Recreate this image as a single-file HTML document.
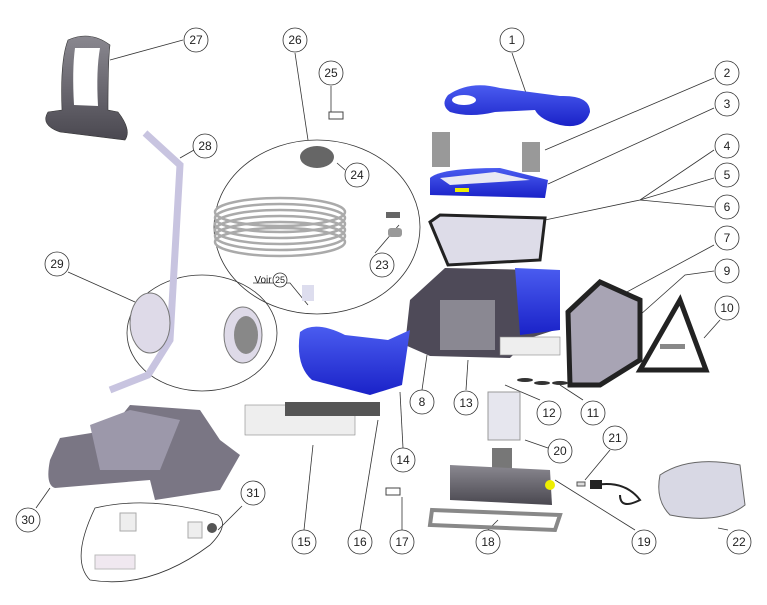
<!DOCTYPE html>
<html><head><meta charset="utf-8"><style>
html,body{margin:0;padding:0;background:#fff}
svg{display:block}
text{font-family:"Liberation Sans",sans-serif;font-size:12px;fill:#222}
</style></head><body>
<svg width="767" height="605" viewBox="0 0 767 605" xmlns="http://www.w3.org/2000/svg">
<defs>
<linearGradient id="bl" x1="0" y1="0" x2="0" y2="1"><stop offset="0" stop-color="#4a5cf0"/><stop offset="1" stop-color="#1a22c8"/></linearGradient>
<linearGradient id="gr" x1="0" y1="0" x2="0" y2="1"><stop offset="0" stop-color="#8a8890"/><stop offset="1" stop-color="#4a4850"/></linearGradient>
<linearGradient id="lv" x1="0" y1="0" x2="1" y2="0"><stop offset="0" stop-color="#dcd8ec"/><stop offset="1" stop-color="#a8a4c0"/></linearGradient>
</defs>
<g stroke="#333" stroke-width="0.8" fill="none">
<!-- leader lines -->
<line x1="512" y1="53" x2="526" y2="93"/>
<line x1="714" y1="78" x2="545" y2="150"/>
<line x1="714" y1="108" x2="548" y2="184"/>
<polyline points="714,150 640,200 545,220"/>
<polyline points="714,178 640,200"/>
<polyline points="714,207 640,200"/>
<line x1="714" y1="245" x2="612" y2="300"/>
<polyline points="714,271 685,275 640,315"/>
<line x1="720" y1="320" x2="704" y2="338"/>
<line x1="422" y1="390" x2="427" y2="355"/>
<line x1="466" y1="390" x2="468" y2="360"/>
<line x1="540" y1="400" x2="505" y2="385"/>
<line x1="583" y1="400" x2="560" y2="385"/>
<line x1="403" y1="448" x2="400" y2="392"/>
<line x1="304" y1="530" x2="313" y2="445"/>
<line x1="360" y1="530" x2="378" y2="420"/>
<line x1="402" y1="530" x2="402" y2="497"/>
<line x1="488" y1="530" x2="498" y2="520"/>
<line x1="635" y1="530" x2="555" y2="480"/>
<line x1="548" y1="448" x2="525" y2="440"/>
<line x1="610" y1="450" x2="585" y2="480"/>
<line x1="728" y1="530" x2="718" y2="528"/>
<line x1="36" y1="508" x2="50" y2="488"/>
<line x1="242" y1="506" x2="218" y2="530"/>
<line x1="183" y1="40" x2="110" y2="60"/>
<line x1="295" y1="53" x2="308" y2="140"/>
<line x1="331" y1="86" x2="331" y2="112"/>
<line x1="194" y1="150" x2="180" y2="158"/>
<line x1="345" y1="170" x2="337" y2="163"/>
<line x1="375" y1="253" x2="399" y2="225"/>
<line x1="68" y1="272" x2="135" y2="302"/>
<polyline points="253,283 290,283 308,305"/>
<!-- circles -->
<ellipse cx="317" cy="227" rx="103" ry="87"/>
<ellipse cx="202" cy="333" rx="75" ry="58"/>
<path d="M95 508 Q70 560 90 580 Q150 590 210 545 Q230 525 218 515 Q150 495 95 508Z"/>
</g>
<!-- parts -->
<g>
<!-- 27 handle -->
<path d="M68 40 Q60 60 62 110 L48 112 Q40 125 60 132 L125 140 Q132 130 118 112 L108 110 Q108 60 110 45 Q90 30 68 40Z" fill="url(#gr)" stroke="#333" stroke-width="0.6"/>
<path d="M75 48 Q72 70 74 105 L98 106 Q96 70 100 48Z" fill="#fff"/>
<!-- 28 tube -->
<path d="M145 133 L180 165 L170 340 L148 375 L110 390" stroke="#c8c4e0" stroke-width="7" fill="none"/>
<!-- 29 wheels -->
<ellipse cx="150" cy="323" rx="20" ry="30" fill="#dedae8" stroke="#777"/>
<ellipse cx="243" cy="335" rx="19" ry="28" fill="#dedae8" stroke="#777"/>
<ellipse cx="246" cy="335" rx="12" ry="19" fill="#888"/>
<!-- 24 -->
<ellipse cx="317" cy="157" rx="17" ry="11" fill="#666"/>
<!-- cable coil -->
<g fill="none" stroke="#aaa" stroke-width="2.5">
<ellipse cx="280" cy="212" rx="65" ry="14"/><ellipse cx="280" cy="218" rx="65" ry="14"/><ellipse cx="280" cy="224" rx="65" ry="14"/><ellipse cx="280" cy="230" rx="65" ry="14"/><ellipse cx="280" cy="236" rx="65" ry="14"/><ellipse cx="280" cy="242" rx="65" ry="14"/>
</g>
<rect x="386" y="212" width="14" height="6" fill="#666"/>
<rect x="388" y="228" width="14" height="9" rx="3" fill="#999"/>
<rect x="302" y="285" width="12" height="16" fill="#dde"/>
<rect x="329" y="112" width="14" height="7" fill="#fff" stroke="#444"/>
<!-- 1 blue handle -->
<path d="M448 95 Q470 80 500 88 L560 96 Q590 95 590 112 Q585 130 560 125 Q540 120 535 110 L495 112 Q470 118 450 112 Q440 105 448 95Z" fill="url(#bl)"/>
<ellipse cx="464" cy="100" rx="12" ry="5" fill="#fff"/>
<!-- 2 clips -->
<rect x="432" y="132" width="18" height="35" fill="#999"/>
<rect x="522" y="142" width="18" height="30" fill="#999"/>
<!-- 3 lid -->
<path d="M430 178 Q440 168 500 168 L548 180 L545 198 L430 195Z" fill="url(#bl)"/>
<path d="M440 178 L495 172 L530 180 L450 185Z" fill="#e8e8f4"/>
<rect x="455" y="188" width="14" height="4" fill="#ee0"/>
<!-- 4 filter -->
<path d="M430 222 L440 215 L545 218 L540 260 L448 265Z" fill="#dddce8" stroke="#222" stroke-width="3"/>
<!-- body -->
<path d="M445 268 L540 270 L560 280 L555 330 L530 338 L510 358 L430 356 L405 345 L410 300 Z" fill="#4e4a58"/>
<rect x="440" y="300" width="55" height="50" fill="#8a8892"/>
<path d="M515 268 L560 270 L560 330 L520 335Z" fill="url(#bl)"/>
<!-- 14 front -->
<path d="M300 332 Q315 320 345 335 L388 340 L410 330 L402 385 L370 395 L312 380 Q295 365 300 332Z" fill="url(#bl)"/>
<!-- tracks -->
<path d="M568 312 L600 282 L640 300 L640 360 L600 385 L570 385Z" fill="#a8a4b4" stroke="#222" stroke-width="5"/>
<path d="M640 370 L680 300 L706 370Z" fill="none" stroke="#222" stroke-width="5"/>
<rect x="660" y="344" width="25" height="5" fill="#888"/>
<!-- brushes -->
<rect x="500" y="337" width="60" height="18" fill="#eee" stroke="#888" stroke-width="0.6"/>
<rect x="245" y="405" width="110" height="30" fill="#eee" stroke="#888" stroke-width="0.6"/>
<rect x="285" y="402" width="95" height="14" fill="#555"/>
<!-- 11 12 discs -->
<ellipse cx="525" cy="380" rx="8" ry="2" fill="#333"/><ellipse cx="542" cy="383" rx="8" ry="2" fill="#333"/><ellipse cx="560" cy="383" rx="8" ry="2" fill="#333"/>
<!-- 20 -->
<rect x="488" y="392" width="32" height="48" fill="#e6e6ee" stroke="#999"/>
<!-- 19 motor -->
<rect x="492" y="448" width="20" height="25" fill="#777"/>
<path d="M450 465 L550 470 L552 505 L450 500Z" fill="url(#gr)"/>
<circle cx="550" cy="485" r="5" fill="#ee0"/>
<path d="M432 510 L560 515 L555 530 L430 525Z" fill="none" stroke="#888" stroke-width="4"/>
<!-- 21 -->
<rect x="577" y="482" width="8" height="4" fill="#ddd" stroke="#555"/>
<path d="M595 485 Q625 480 640 500 Q620 510 620 495" fill="none" stroke="#222" stroke-width="2"/>
<rect x="590" y="480" width="12" height="9" fill="#222"/>
<!-- 22 -->
<path d="M660 475 Q690 455 740 465 L745 505 Q720 525 670 515 Q655 500 660 475Z" fill="#d8d8e4" stroke="#666"/>
<!-- 17 -->
<rect x="386" y="488" width="14" height="7" fill="#fff" stroke="#444"/>
<!-- 30 base -->
<path d="M50 460 Q45 485 55 488 L150 480 L155 500 L220 490 L240 455 L220 440 L200 410 L130 405 L110 430 L60 438Z" fill="#7a7684"/>
<path d="M90 425 L130 410 L180 420 L160 470 L100 470Z" fill="#9c98aa"/>
<!-- 31 small parts -->
<rect x="120" y="513" width="16" height="18" fill="#eee" stroke="#aaa"/>
<rect x="188" y="522" width="14" height="16" fill="#eee" stroke="#aaa"/>
<circle cx="212" cy="528" r="5" fill="#555"/>
<rect x="95" y="555" width="40" height="14" fill="#f0e8f0" stroke="#bbb"/>
</g>
<!-- bubbles -->
<g fill="#fff" stroke="#333" stroke-width="0.8">
<circle cx="512" cy="40" r="12"/><circle cx="727" cy="73" r="12"/><circle cx="727" cy="104" r="12"/>
<circle cx="727" cy="146" r="12"/><circle cx="727" cy="175" r="12"/><circle cx="727" cy="207" r="12"/>
<circle cx="727" cy="238" r="12"/><circle cx="727" cy="271" r="12"/><circle cx="727" cy="308" r="12"/>
<circle cx="422" cy="402" r="12"/><circle cx="466" cy="403" r="12"/><circle cx="549" cy="413" r="12"/>
<circle cx="593" cy="413" r="12"/><circle cx="403" cy="460" r="12"/><circle cx="304" cy="542" r="12"/>
<circle cx="360" cy="542" r="12"/><circle cx="402" cy="542" r="12"/><circle cx="488" cy="542" r="12"/>
<circle cx="644" cy="542" r="12"/><circle cx="560" cy="451" r="12"/><circle cx="615" cy="438" r="12"/>
<circle cx="739" cy="542" r="12"/><circle cx="28" cy="520" r="12"/><circle cx="253" cy="493" r="12"/>
<circle cx="196" cy="40" r="12"/><circle cx="295" cy="40" r="12"/><circle cx="331" cy="73" r="12"/>
<circle cx="205" cy="146" r="12"/><circle cx="357" cy="175" r="12"/><circle cx="382" cy="265" r="12"/>
<circle cx="57" cy="264" r="12"/><circle cx="280" cy="280" r="7"/>
</g>
<g text-anchor="middle">
<text x="512" y="44">1</text><text x="727" y="77">2</text><text x="727" y="108">3</text>
<text x="727" y="150">4</text><text x="727" y="179">5</text><text x="727" y="211">6</text>
<text x="727" y="242">7</text><text x="727" y="275">9</text><text x="727" y="312">10</text>
<text x="422" y="406">8</text><text x="466" y="407">13</text><text x="549" y="417">12</text>
<text x="593" y="417">11</text><text x="403" y="464">14</text><text x="304" y="546">15</text>
<text x="360" y="546">16</text><text x="402" y="546">17</text><text x="488" y="546">18</text>
<text x="644" y="546">19</text><text x="560" y="455">20</text><text x="615" y="442">21</text>
<text x="739" y="546">22</text><text x="28" y="524">30</text><text x="253" y="497">31</text>
<text x="196" y="44">27</text><text x="295" y="44">26</text><text x="331" y="77">25</text>
<text x="205" y="150">28</text><text x="357" y="179">24</text><text x="382" y="269">23</text>
<text x="57" y="268">29</text>
<text x="280" y="283" style="font-size:9px">25</text>
<text x="263" y="283" style="font-size:10px">Voir</text>
</g>
</svg>
</body></html>
